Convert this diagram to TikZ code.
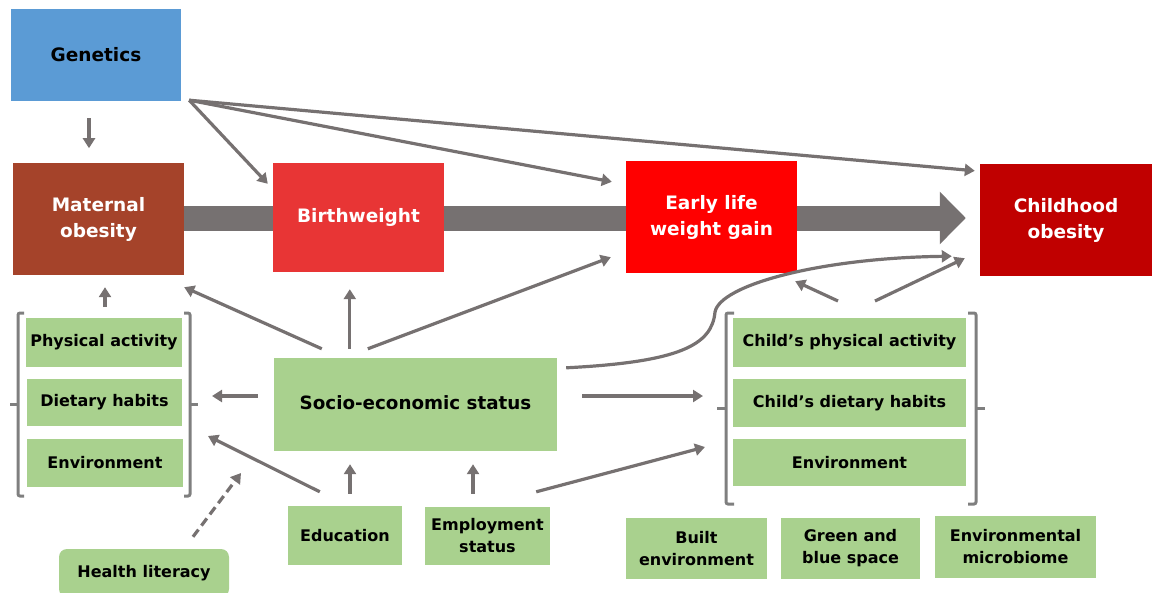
\documentclass[tikz,border=0pt]{standalone}
\usepackage{fontspec}
\setmainfont{DejaVu Sans}
\usetikzlibrary{arrows.meta,calc}
\definecolor{arrowgray}{HTML}{767171}
\definecolor{bracketgray}{HTML}{7F7F7F}
\definecolor{genblue}{HTML}{5B9BD5}
\definecolor{matbrown}{HTML}{A5432A}
\definecolor{bwred}{HTML}{E83535}
\definecolor{elred}{HTML}{FF0000}
\definecolor{chred}{HTML}{C00000}
\definecolor{factorgreen}{HTML}{A9D18E}
\tikzset{
  box/.style={inner sep=0pt, align=center, font=\bfseries\fontsize{18.5}{26}\selectfont},
  mainbox/.style={box, text=white},
  factor/.style={box, fill=factorgreen, text=black, font=\bfseries\fontsize{16}{22}\selectfont},
  link/.style={draw=arrowgray, line width=3.2pt, -{Triangle[length=10pt,width=12pt]}},
  dashlink/.style={link, dash pattern=on 9pt off 5pt},
  bracket/.style={draw=bracketgray, line width=3pt, rounded corners=2pt}
}
\begin{document}
\begin{tikzpicture}[x=1pt,y=-1pt]
\useasboundingbox (0,0) rectangle (1153,592);

% outer boxes of the causal chain
\node[box, fill=genblue, minimum width=170pt, minimum height=92pt] (gen) at (96,55) {Genetics};
\node[mainbox, fill=matbrown, minimum width=171pt, minimum height=112pt] (mat) at (98.5,219) {Maternal\\obesity};
\node[mainbox, fill=chred, minimum width=172pt, minimum height=112pt] (chob) at (1066,220) {Childhood\\obesity};

% thick arrow along the chain, behind the middle boxes
\coordinate (chainend) at ($(chob.west)+(-14,-2)$);
\path[draw=arrowgray, line width=25pt, -{Triangle[length=26pt,width=51pt]}]
  (mat.east |- chainend) -- (chainend);

% middle boxes of the chain
\node[mainbox, fill=bwred, minimum width=171pt, minimum height=109pt] (bw) at (358.5,217.5) {Birthweight};
\node[mainbox, fill=elred, minimum width=171pt, minimum height=112pt] (elw) at (711.5,217) {Early life\\weight gain};

% maternal factors
\node[factor, minimum width=156pt, minimum height=49pt] (pa) at (104,342.5) {Physical activity};
\node[factor, minimum width=155pt, minimum height=47pt] (dh) at (104.5,402.5) {Dietary habits};
\node[factor, minimum width=156pt, minimum height=48pt] (env1) at (105,463) {Environment};

% socio-economic factors
\node[factor, minimum width=283pt, minimum height=93pt, font=\bfseries\fontsize{18.3}{22}\selectfont]
  (ses) at (415.5,404.5) {\raisebox{4pt}{Socio-economic status}};
\node[factor, minimum width=114pt, minimum height=59pt] (edu) at (345,535.5) {Education};
\node[factor, minimum width=125pt, minimum height=58pt] (emp) at (487.5,536) {Employment\\status};
\node[factor, minimum width=170pt, minimum height=48pt, rounded corners=8pt] (hl) at (144,573) {\raisebox{3pt}{Health literacy}};

% child factors
\node[factor, minimum width=233pt, minimum height=49pt] (cpa) at (849.5,342.5) {Child’s physical activity};
\node[factor, minimum width=233pt, minimum height=48pt] (cdh) at (849.5,403) {Child’s dietary habits};
\node[factor, minimum width=233pt, minimum height=47pt] (env2) at (849.5,462.5) {Environment};

% environmental factors
\node[factor, minimum width=141pt, minimum height=61pt] (built) at (696.5,548.5) {Built\\environment};
\node[factor, minimum width=139pt, minimum height=61pt] (green) at (850.5,548.5) {Green and\\blue space};
\node[factor, minimum width=161pt, minimum height=62pt] (micro) at (1015.5,547) {Environmental\\microbiome};

% brackets round the maternal factors
\draw[bracket] (24,313) -- (18,313) -- (18,496) -- (24,496);
\draw[bracket] (18,404) -- (10,404);
\draw[bracket] (184,313) -- (190,313) -- (190,496) -- (184,496);
\draw[bracket] (190,404) -- (198,404);
\coordinate (mtop) at (105,307);
\coordinate (mleft) at (212,396);
\coordinate (mlow) at (208,436);
\coordinate (mdash) at (241,473);

% brackets round the child factors
\draw[bracket] (734,313) -- (726,313) -- (726,504) -- (734,504);
\draw[bracket] (726,408) -- (717,408);
\draw[bracket] (968,313) -- (976,313) -- (976,504) -- (968,504);
\draw[bracket] (976,408) -- (985,408);
\coordinate (cin) at (703,396);
\coordinate (clow) at (705,447);
\coordinate (ctopl) at (838,301);
\coordinate (ctopr) at (875,301);

% genetics links
\coordinate (gsrc) at ($(gen.south east)+(8,-1)$);
\draw[link] ($(gen.south)+(-7,17)$) -- ($(gen.south)+(-7,47)$);
\draw[link] (gsrc) -- ($(bw.north west)+(-5,21)$);
\draw[link] (gsrc) -- ($(elw.north west)+(-14,21)$);
\draw[link] (gsrc) -- ($(chob.north west)+(-5,7)$);

% maternal factors to maternal obesity
\draw[link] (mtop) -- ($(mat.south)+(6.5,12)$);

% socio-economic links
\draw[link] ($(ses.north west)+(48,-9)$) -- ($(mat.south east)+(0,12)$);
\draw[link] ($(ses.north west)+(76,-9)$) -- ($(bw.south west)+(77,17)$);
\draw[link] ($(ses.north west)+(94,-9)$) -- ($(elw.south west)+(-15,-16)$);
\draw[link] ($(ses.west)+(-16,-8.5)$) -- (mleft);
\draw[link] ($(ses.east)+(25,-8.5)$) -- (cin);
\draw[link] ($(ses.north east)+(9,10)$)
  .. controls (680,362) and (712,345) .. (715,312)
  .. controls (720,285) and (820,258) .. ($(chob.south west)+(-28,-20)$);

% education and employment links
\draw[link] ($(edu.north west)+(32,-14)$) -- (mlow);
\draw[link] ($(edu.north)+(5,-12)$) -- ($(ses.south)+(-65.5,13)$);
\draw[link] ($(emp.north)+(-14.5,-13)$) -- ($(ses.south)+(57.5,13)$);
\draw[link] ($(emp.north east)+(-14,-15)$) -- (clow);
\draw[dashlink] ($(hl.north)+(49,-12)$) -- (mdash);

% child factors to outcomes
\draw[link] (ctopl) -- ($(elw.south east)+(-2,8)$);
\draw[link] (ctopr) -- ($(chob.south west)+(-15,-18)$);
\end{tikzpicture}
\end{document}
